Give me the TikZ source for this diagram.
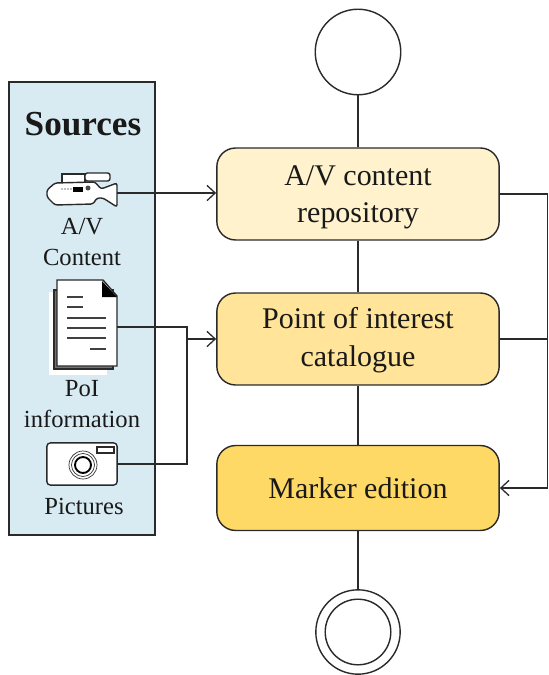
\documentclass[tikz,border=0pt]{standalone}
\usepackage{fontspec}
\setmainfont{Liberation Serif}
\usepackage{tikz}
\usetikzlibrary{calc,arrows.meta}
\definecolor{srcblue}{HTML}{D9EBF2}
\definecolor{boxa}{HTML}{FFF2CC}
\definecolor{boxb}{HTML}{FFE499}
\definecolor{boxc}{HTML}{FFD966}
\definecolor{linegray}{HTML}{2A2A2A}
\tikzset{
    stage/.style={draw=linegray, line width=1.2pt, rounded corners=16pt, minimum width=241pt, minimum height=#1, align=center, font=\fontsize{25.6}{32}\selectfont, text=black!90},
    lbl/.style={align=center, font=\fontsize{21}{26}\selectfont, text=black!90},
    icon/.style={draw=linegray, line width=1.2pt, fill=white},
    link/.style={draw=linegray, line width=1.1pt},
    tip/.style={-{Straight Barb[length=7pt,width=13pt,line width=1.1pt]}},
}
\begin{document}
\begin{tikzpicture}[x=0.03cm,y=-0.03cm]
        \useasboundingbox (0,0) rectangle (548,675);
        % sources panel
        \node (panel) [draw=linegray, line width=1.2pt, fill=srcblue, minimum width=124.5pt, minimum height=386.5pt] at (82,308.5) {};
        \node (title) [font=\fontsize{30}{36}\selectfont\bfseries, text=black!90] at (83,124) {Sources};
        % flow
        \node (start) [circle, draw=linegray, line width=1.2pt, fill=white, minimum size=73pt, inner sep=0pt] at (358,52) {};
        \node (repo) [stage=78.5pt, fill=boxa] at (358,194) {\rule{0pt}{23pt}A/V content\\repository};
        \node (poi) [stage=78.5pt, fill=boxb] at (358,339) {\rule{0pt}{20pt}Point of interest\\catalogue};
        \node (marker) [stage=72.5pt, fill=boxc] at (358,488) {Marker edition};
        \node (stop) [circle, draw=linegray, line width=1.2pt, fill=white, minimum size=72pt, inner sep=0pt] at (358,632) {};
        \node (stopin) [circle, draw=linegray, line width=1.2pt, minimum size=56pt, inner sep=0pt] at (358,632) {};
        \draw[link] (start) -- (repo);
        \draw[link] (repo) -- (poi);
        \draw[link] (poi) -- (marker);
        \draw[link] (marker) -- (stop);
        % camcorder
        \draw[icon, line width=1.6pt] (62,183) -- (62,174) -- (85,174) -- (85,183);
        \draw[icon, rounded corners=2pt] (85,173) rectangle (110,181);
        \draw[icon, rounded corners=2pt] (47,190) -- (55,183) -- (95,182) -- (101,189) -- (117,183) -- (117,207) -- (103,198) -- (97,198) -- (93,204) -- (55,205) -- (47,197) -- cycle;
        \fill[black] (73,187) rectangle (83,192);
        \fill[black!70] (88,188) circle (2.5);
        \foreach \x in {62,65,68,71}
            \fill[black!50] (\x,189) circle (0.8);
        \coordinate (video) at (117,193);
        \node (avlbl) [lbl] at (82,242) {A/V\\Content};
        % document
        \fill[white] (49,292) rectangle (107,375);
        \draw[icon, fill=black!55] (54,290) rectangle (113,369);
        \draw[icon] (57,280) -- (103,280) -- (117,296) -- (117,366) -- (57,366) -- cycle;
        \fill[black] (102,281) -- (117,297) -- (102,297) -- cycle;
        \foreach \y/\a/\b in {297/67/83,307/67/83,318/67/106,328/67/106,338/67/106,349/90/106}
            \draw[black!75, line width=1.2pt] (\a,\y) -- (\b,\y);
        \coordinate (doc) at (117,327);
        \node (poilbl) [lbl] at (82,404) {PoI\\information};
        % camera
        \node (photo) [icon, rounded corners=3pt, minimum width=60pt, minimum height=36pt] at (82,464) {};
        \draw[icon] (97,447) rectangle (114,453);
        \draw[black!80, line width=0.6pt] (83,465) circle (14);
        \draw[black!80, line width=0.6pt] (83,465) circle (11.5);
        \draw[black, line width=1.6pt] (83,465) circle (8);
        \node (piclbl) [lbl] at (84,506) {Pictures};
        % connectors
        \coordinate (joint) at (187,339);
        \draw[link, tip] (video) -- (repo.west |- video);
        \draw[link] (doc) -| (joint);
        \draw[link] (photo.east) -| (joint);
        \draw[link, tip] (joint) -- (poi.west);
        \coordinate (rail) at (547.5,339);
        \draw[link] (repo.east) -- (repo.east -| rail) -- (rail);
        \draw[link] (poi.east) -- (rail);
        \draw[link, tip, line width=1.6pt] (rail) -- (rail |- marker.east) -- (marker.east);
    \end{tikzpicture}
\end{document}
